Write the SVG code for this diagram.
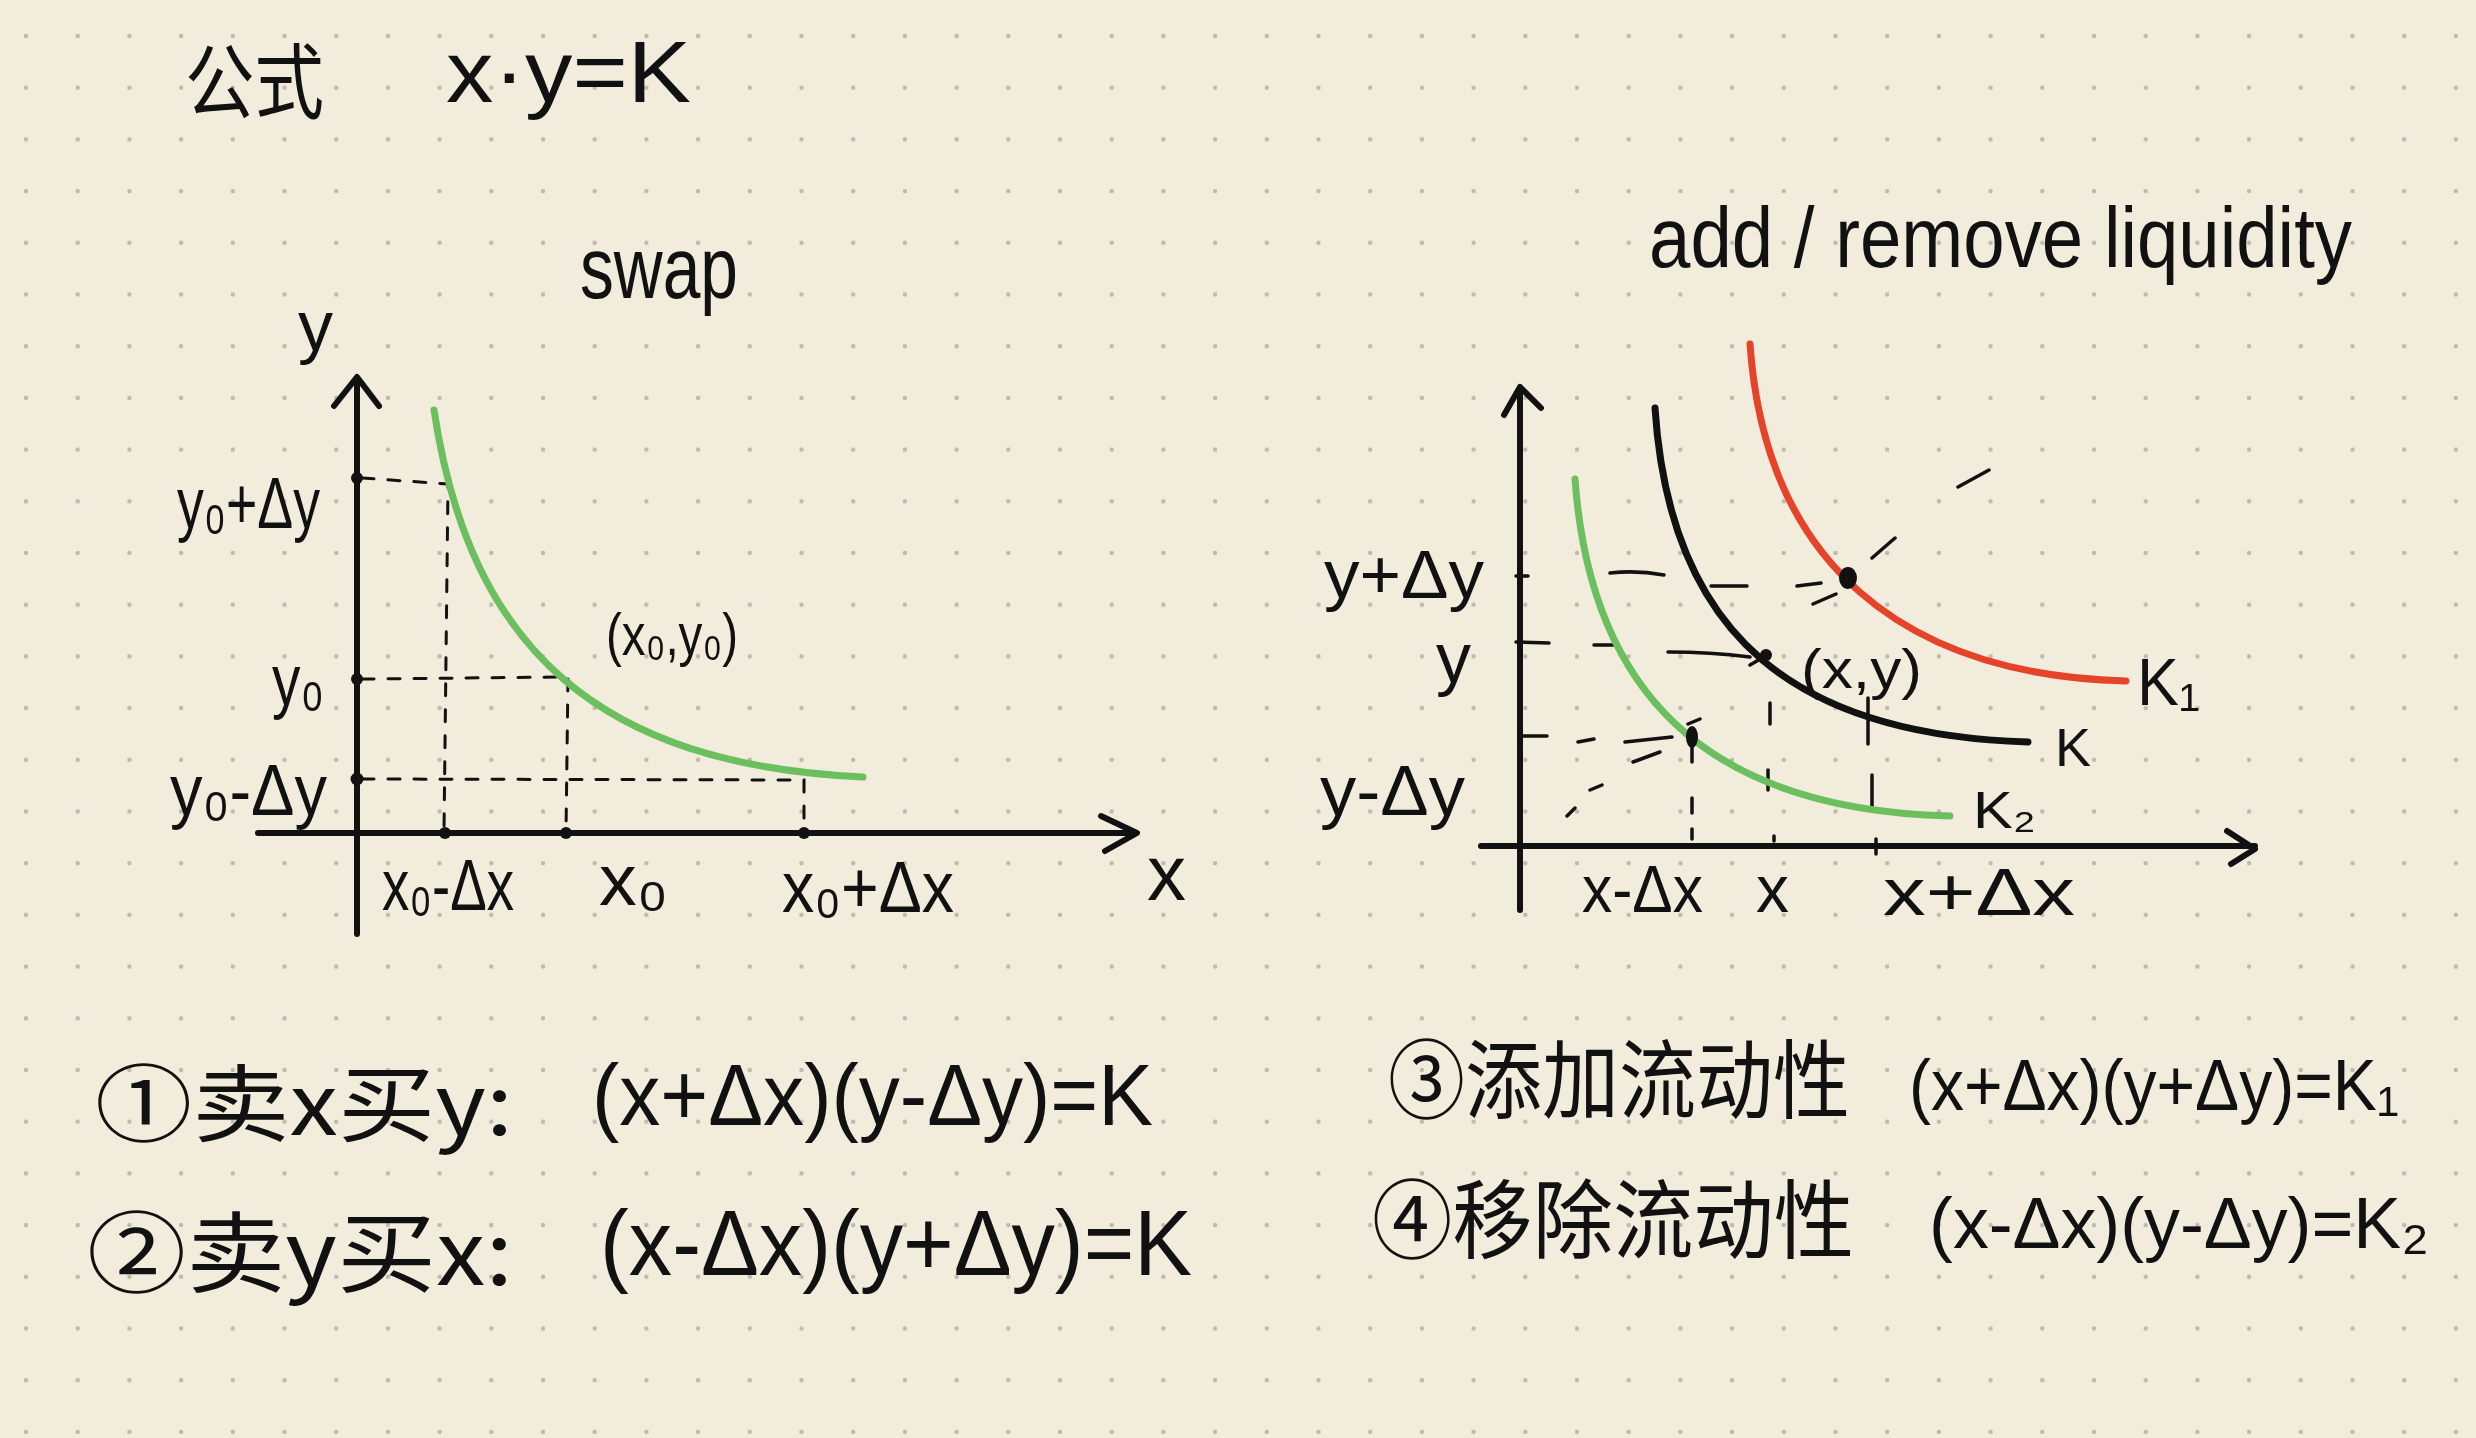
<svg xmlns="http://www.w3.org/2000/svg" width="2476" height="1438" viewBox="0 0 2476 1438">
<defs>
<pattern id="dots" patternUnits="userSpaceOnUse" x="0.15" y="10.15" width="51.7" height="51.7">
<circle cx="25.85" cy="25.85" r="2.2" fill="#bdb9ae"/>
</pattern>
<style>
.t{font-family:"Liberation Sans","DejaVu Sans","Noto Sans CJK SC",sans-serif;fill:#111;}
.c{font-family:"Noto Sans CJK SC","Liberation Sans",sans-serif;fill:#111;}
.ax{stroke:#111;stroke-width:6;fill:none;stroke-linecap:round;stroke-linejoin:round;}
.dash{stroke:#111;stroke-width:3;fill:none;stroke-dasharray:12 14;stroke-linecap:round;}
.seg{stroke:#111;stroke-width:3.5;fill:none;stroke-linecap:round;}
.green{stroke:#6cbf5f;stroke-width:7;fill:none;stroke-linecap:round;}
.red{stroke:#e5442a;stroke-width:7;fill:none;stroke-linecap:round;}
.black{stroke:#111;stroke-width:7;fill:none;stroke-linecap:round;}
</style>
</defs>
<rect width="2476" height="1438" fill="#f2ecdc"/>
<rect width="2476" height="1438" fill="url(#dots)"/>

<g id="title">
<text class="c" x="185" y="112" font-size="82" textLength="139" lengthAdjust="spacingAndGlyphs">公式</text>
<text class="t" x="446" y="102" font-size="88" textLength="245" lengthAdjust="spacingAndGlyphs">x·y=K</text>
</g>

<g id="swap-chart">
<text class="t" x="580" y="298" font-size="88" textLength="158" lengthAdjust="spacingAndGlyphs">swap</text>
<g id="swap-axes">
<path class="ax" d="M357,934 L357,378 M334,406 L357,377 L379,406"/>
<path class="ax" d="M258,833 L1136,833 M1101,816 L1137,833 L1105,851"/>
<text class="t" x="298" y="350" font-size="70">y</text>
<text class="t" x="1147" y="900" font-size="78">x</text>
</g>
<g id="swap-guides">
<path class="dash" d="M362,478 L448,484 L444,832"/>
<path class="dash" d="M362,679 L568,677 L566,832"/>
<path class="dash" d="M362,779 L804,780 L804,832"/>
<circle cx="357" cy="478" r="6" fill="#111"/>
<circle cx="357" cy="679" r="6" fill="#111"/>
<circle cx="357" cy="779" r="6.5" fill="#111"/>
<circle cx="445" cy="833" r="6" fill="#111"/>
<circle cx="566" cy="833" r="6" fill="#111"/>
<circle cx="804" cy="833" r="6" fill="#111"/>
</g>
<path id="swap-curve" class="green" d="M434,410 C470,650 600,765 863,777"/>
<g id="swap-labels">
<text class="t" x="177" y="528" font-size="72" textLength="143" lengthAdjust="spacingAndGlyphs">y₀+Δy</text>
<text class="t" x="272" y="705" font-size="72" textLength="52" lengthAdjust="spacingAndGlyphs">y₀</text>
<text class="t" x="170" y="815" font-size="72" textLength="157" lengthAdjust="spacingAndGlyphs">y₀-Δy</text>
<text class="t" x="382" y="910" font-size="72" textLength="132" lengthAdjust="spacingAndGlyphs">x₀-Δx</text>
<text class="t" x="599" y="905" font-size="72" textLength="69" lengthAdjust="spacingAndGlyphs">x₀</text>
<text class="t" x="782" y="912" font-size="72" textLength="172" lengthAdjust="spacingAndGlyphs">x₀+Δx</text>
<text class="t" x="606" y="655" font-size="60" textLength="132" lengthAdjust="spacingAndGlyphs">(x₀,y₀)</text>
</g>
</g>

<g id="liquidity-chart">
<text class="t" x="1649" y="267" font-size="85" textLength="703" lengthAdjust="spacingAndGlyphs">add / remove liquidity</text>
<g id="liq-axes">
<path class="ax" d="M1520,910 L1520,387 M1504,415 L1520,387 L1541,408"/>
<path class="ax" d="M1481,846 L2255,846 M2227,831 L2255,849 L2231,864"/>
</g>
<g id="liq-guides">
<path class="seg" d="M1516,576 L1528,576 M1610,573 Q1637,570 1664,575 M1711,586 L1747,586 M1797,586 L1821,583"/>
<path class="seg" d="M1813,604 L1836,594 M1872,558 L1895,538 M1958,487 L1989,470"/>
<path class="seg" d="M1516,642 L1549,643 M1594,645 L1617,645 M1668,652 Q1710,652 1750,657 M1750,665 L1762,658"/>
<path class="seg" d="M1520,736 L1547,736 M1578,742 L1594,739 M1625,742 L1672,737"/>
<path class="seg" d="M1688,724 L1700,719 M1633,762 L1660,752 M1590,790 L1602,785 M1567,816 L1575,808"/>
<path class="seg" d="M1692,747 L1692,762 M1692,798 L1692,813 M1692,829 L1692,839"/>
<path class="seg" d="M1770,703 L1770,724 M1768,770 L1768,790 M1774,836 L1774,841"/>
<path class="seg" d="M1868,698 L1868,744 M1872,775 L1872,806 M1876,839 L1876,854"/>
</g>
<path id="curve-k1" class="red" d="M1750,344 C1765,560 1900,675 2126,681"/>
<path id="curve-k" class="black" d="M1655,408 C1670,640 1800,735 2028,742"/>
<path id="curve-k2" class="green" d="M1575,479 C1592,715 1730,810 1950,816"/>
<g id="liq-points">
<ellipse cx="1848" cy="578" rx="9" ry="11" fill="#111"/>
<circle cx="1766" cy="655" r="6" fill="#111"/>
<ellipse cx="1692" cy="737" rx="6" ry="11" fill="#111"/>
</g>
<g id="liq-labels">
<text class="t" x="1324" y="598" font-size="68" textLength="160" lengthAdjust="spacingAndGlyphs">y+Δy</text>
<text class="t" x="1436" y="682" font-size="70">y</text>
<text class="t" x="1320" y="815" font-size="70" textLength="145" lengthAdjust="spacingAndGlyphs">y-Δy</text>
<text class="t" x="1582" y="912" font-size="66" textLength="121" lengthAdjust="spacingAndGlyphs">x-Δx</text>
<text class="t" x="1756" y="912" font-size="66">x</text>
<text class="t" x="1883" y="915" font-size="66" textLength="192" lengthAdjust="spacingAndGlyphs">x+Δx</text>
<text class="t" x="1801" y="688" font-size="56" textLength="121" lengthAdjust="spacingAndGlyphs">(x,y)</text>
<text class="t" x="2137" y="705" font-size="66" textLength="63" lengthAdjust="spacingAndGlyphs">K₁</text>
<text class="t" x="2055" y="766" font-size="54">K</text>
<text class="t" x="1973" y="828" font-size="52" textLength="63" lengthAdjust="spacingAndGlyphs">K₂</text>
</g>
</g>

<g id="formulas">
<g id="f1">
<text class="c" x="95" y="1135" font-size="84" textLength="418" lengthAdjust="spacingAndGlyphs">①卖x买y:</text>
<text class="t" x="592" y="1125" font-size="88" textLength="561" lengthAdjust="spacingAndGlyphs">(x+Δx)(y-Δy)=K</text>
</g>
<g id="f2">
<text class="c" x="87" y="1285" font-size="88" textLength="426" lengthAdjust="spacingAndGlyphs">②卖y买x:</text>
<text class="t" x="600" y="1275" font-size="92" textLength="592" lengthAdjust="spacingAndGlyphs">(x-Δx)(y+Δy)=K</text>
</g>
<g id="f3">
<text class="c" x="1388" y="1112" font-size="86" textLength="462" lengthAdjust="spacingAndGlyphs">③添加流动性</text>
<text class="t" x="1909" y="1110" font-size="72" textLength="490" lengthAdjust="spacingAndGlyphs">(x+Δx)(y+Δy)=K₁</text>
</g>
<g id="f4">
<text class="c" x="1372" y="1252" font-size="86" textLength="482" lengthAdjust="spacingAndGlyphs">④移除流动性</text>
<text class="t" x="1929" y="1248" font-size="72" textLength="500" lengthAdjust="spacingAndGlyphs">(x-Δx)(y-Δy)=K₂</text>
</g>
</g>
</svg>
